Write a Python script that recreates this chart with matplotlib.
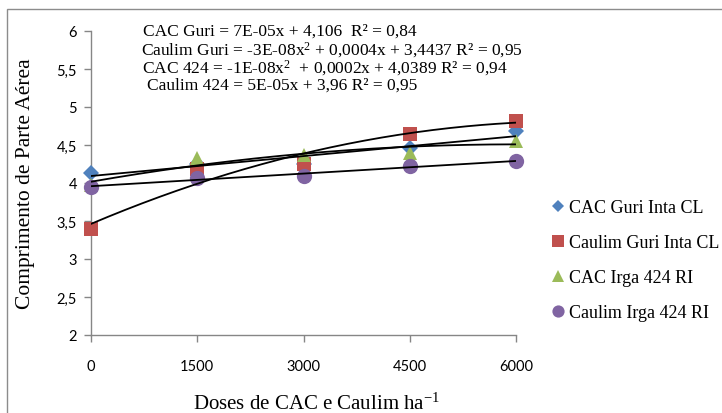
import numpy as np
import matplotlib
matplotlib.use("Agg")
import matplotlib.pyplot as plt
from matplotlib.patches import Rectangle

plt.rcParams["mathtext.fontset"] = "custom"
plt.rcParams["mathtext.rm"] = "Liberation Serif"
plt.rcParams["mathtext.it"] = "Liberation Serif:italic"

doses = [0, 1500, 3000, 4500, 6000]
cac_guri = [4.13, 4.25, 4.25, 4.46, 4.68]
caulim_guri = [3.39, 4.18, 4.25, 4.65, 4.82]
cac_424 = [3.97, 4.33, 4.37, 4.40, 4.55]
caulim_424 = [3.95, 4.07, 4.09, 4.22, 4.29]

names = ["CAC Guri Inta CL", "Caulim Guri Inta CL", "CAC Irga 424 RI", "Caulim Irga 424 RI"]
equations = [
    "CAC Guri = 7E-05x + 4,106  R² = 0,84",
    "Caulim Guri = -3E-08x$^\\mathrm{2}$ + 0,0004x + 3,4437 R² = 0,95",
    "CAC 424 = -1E-08x$^\\mathrm{2}$  + 0,0002x + 4,0389 R² = 0,94",
    "Caulim 424 = 5E-05x + 3,96 R² = 0,95",
]
x_ticks = [0, 1500, 3000, 4500, 6000]
y_ticks = [2, 2.5, 3, 3.5, 4, 4.5, 5, 5.5, 6]

series = [cac_guri, caulim_guri, cac_424, caulim_424]
colors = ["#4F81BD", "#C0504D", "#9BBB59", "#8064A2"]
markers = ["D", "s", "^", "o"]
msizes = [8, 10.5, 10.5, 11]
degrees = [1, 2, 2, 1]

fig = plt.figure(figsize=(7.22, 4.14), dpi=100)
ax = fig.add_axes([91 / 722, 78 / 414, 425 / 722, 304 / 414])

x = np.array(doses, dtype=float)
for vals, c, m, ms, name in zip(series, colors, markers, msizes, names):
    ax.plot(x, vals, linestyle="none", marker=m, markersize=ms, color=c,
            markeredgewidth=0, label=name, clip_on=False, zorder=3)

# trend lines fitted to each series
xs = np.linspace(0, 6000, 200)
for vals, deg in zip(series, degrees):
    coef = np.polyfit(x, vals, deg)
    ax.plot(xs, np.polyval(coef, xs), color="black", linewidth=1.3, zorder=4)

ax.set_xlim(0, 6000)
ax.set_ylim(2, 6)
ax.set_xticks(x_ticks)
ax.set_yticks(y_ticks)
ax.set_yticklabels([("%g" % v).replace(".", ",") for v in y_ticks])
ax.spines["top"].set_visible(False)
ax.spines["right"].set_visible(False)
for s in ["left", "bottom"]:
    ax.spines[s].set_color("#868686")
    ax.spines[s].set_linewidth(1.0)
ax.tick_params(axis="both", colors="#868686", labelcolor="black", length=5, width=1,
               labelsize=10.5)
ax.tick_params(axis="x", pad=12)
ax.tick_params(axis="y", pad=5)
for lab in ax.get_xticklabels() + ax.get_yticklabels():
    lab.set_family("Lato")

ax.set_ylabel("Comprimento de Parte Aérea", family="Liberation Serif", fontsize=15.5)
ax.yaxis.set_label_coords(-56 / 425, 0.5)
ax.set_xlabel("Doses de CAC e Caulim ha$^{-1}$", family="Liberation Serif", fontsize=15)
ax.xaxis.set_label_coords(226 / 425, -58 / 304)

eq_x = [143, 141, 142, 147]
eq_y = [32, 50, 68, 86]
for txt, ex, ey in zip(equations, eq_x, eq_y):
    fig.text(ex / 722, 1 - ey / 414, txt, family="Liberation Serif", fontsize=12.5,
             ha="left", va="center")

fig.legend(loc="upper left", bbox_to_anchor=(540 / 722, 1 - 193 / 414), frameon=False,
           prop={"family": "Liberation Serif", "size": 13}, handletextpad=0.0,
           handlelength=1.2, labelspacing=1.0, borderaxespad=0, markerscale=0.8)

fig.patches.append(Rectangle((7 / 722, -0.1), 2, 1 - 10 / 414 + 0.1, transform=fig.transFigure,
                             fill=False, edgecolor="#8C8C8C", linewidth=1))

fig.savefig("out.png", dpi=100)
